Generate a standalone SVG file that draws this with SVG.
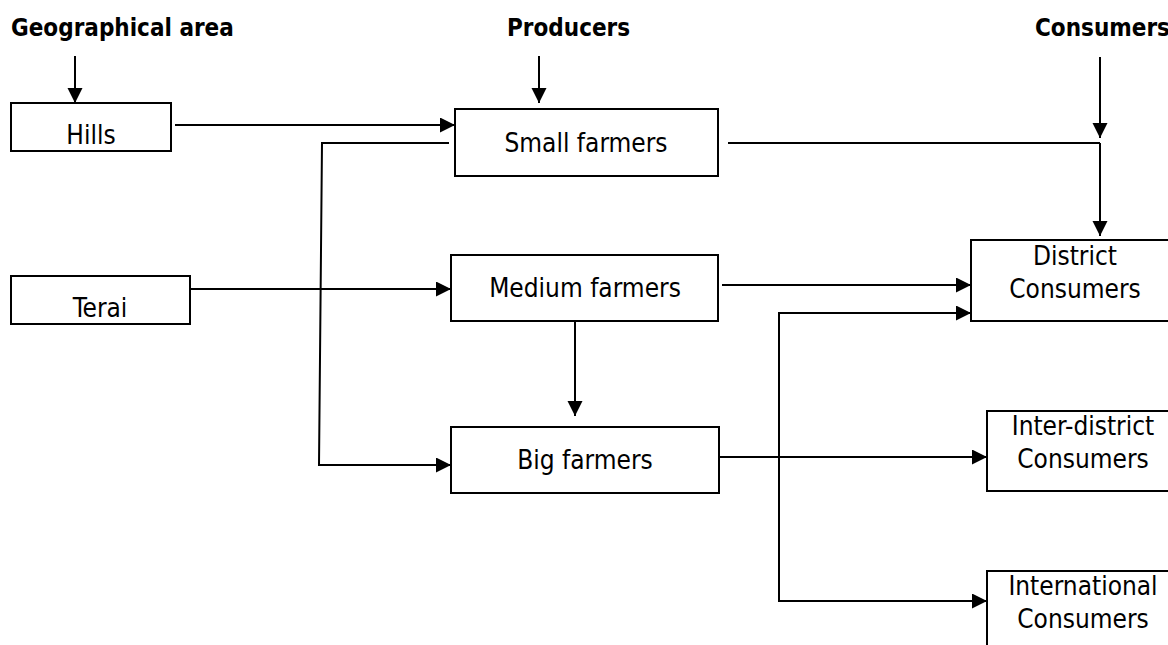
<svg xmlns="http://www.w3.org/2000/svg" width="1168" height="645" viewBox="0 0 1168 645">
<style>
.box{fill:#fff;stroke:#000;stroke-width:2}
.t{font-family:"DejaVu Sans Condensed","DejaVu Sans",sans-serif;font-size:26px;fill:#000;text-anchor:middle}
.h{font-family:"DejaVu Sans Condensed","DejaVu Sans",sans-serif;font-size:24px;font-weight:bold;fill:#000}
.c{fill:none;stroke:#000;stroke-width:2}
</style>
<defs>
<marker id="ar" markerUnits="userSpaceOnUse" markerWidth="16" markerHeight="16" refX="15" refY="7.5" orient="auto">
<path d="M0,0 L15,7.5 L0,15 z" fill="#000"/>
</marker>
</defs>
<text class="h" x="11" y="36">Geographical area</text>
<text class="h" x="507" y="36">Producers</text>
<text class="h" x="1035" y="36">Consumers</text>
<g id="connectors">
<line class="c" x1="75" y1="56" x2="75" y2="103" marker-end="url(#ar)"/>
<line class="c" x1="539" y1="56" x2="539" y2="103" marker-end="url(#ar)"/>
<line class="c" x1="1100" y1="57" x2="1100" y2="138" marker-end="url(#ar)"/>
<line class="c" x1="1100" y1="143" x2="1100" y2="236" marker-end="url(#ar)"/>
<line class="c" x1="175" y1="125" x2="455" y2="125" marker-end="url(#ar)"/>
<path class="c" d="M449,143 H322 L319,465 H451" marker-end="url(#ar)"/>
<line class="c" x1="728" y1="143" x2="1100" y2="143"/>
<line class="c" x1="190" y1="289" x2="451" y2="289" marker-end="url(#ar)"/>
<line class="c" x1="722" y1="285" x2="971" y2="285" marker-end="url(#ar)"/>
<line class="c" x1="575" y1="321" x2="575" y2="416" marker-end="url(#ar)"/>
<line class="c" x1="719" y1="457" x2="987" y2="457" marker-end="url(#ar)"/>
<path class="c" d="M987,601 H779 V313 H971" marker-end="url(#ar)"/>
<line class="c" x1="779" y1="601" x2="987" y2="601" marker-end="url(#ar)"/>
</g>
<g id="hills"><rect class="box" x="11" y="103" width="160" height="48"/><text class="t" x="91" y="144">Hills</text></g>
<g id="terai"><rect class="box" x="11" y="276" width="179" height="48"/><text class="t" x="100" y="317">Terai</text></g>
<g id="small"><rect class="box" x="455" y="109" width="263" height="67"/><text class="t" x="586" y="152">Small farmers</text></g>
<g id="medium"><rect class="box" x="451" y="255" width="267" height="66"/><text class="t" x="585" y="297">Medium farmers</text></g>
<g id="big"><rect class="box" x="451" y="427" width="268" height="66"/><text class="t" x="585" y="469">Big farmers</text></g>
<g id="district"><rect class="box" x="971" y="240" width="210" height="81"/><text class="t" x="1075" y="265">District</text><text class="t" x="1075" y="298">Consumers</text></g>
<g id="interdistrict"><rect class="box" x="987" y="411" width="200" height="80"/><text class="t" x="1083" y="435">Inter-district</text><text class="t" x="1083" y="468">Consumers</text></g>
<g id="international"><rect class="box" x="987" y="571" width="200" height="90"/><text class="t" x="1083" y="595">International</text><text class="t" x="1083" y="628">Consumers</text></g>
</svg>
